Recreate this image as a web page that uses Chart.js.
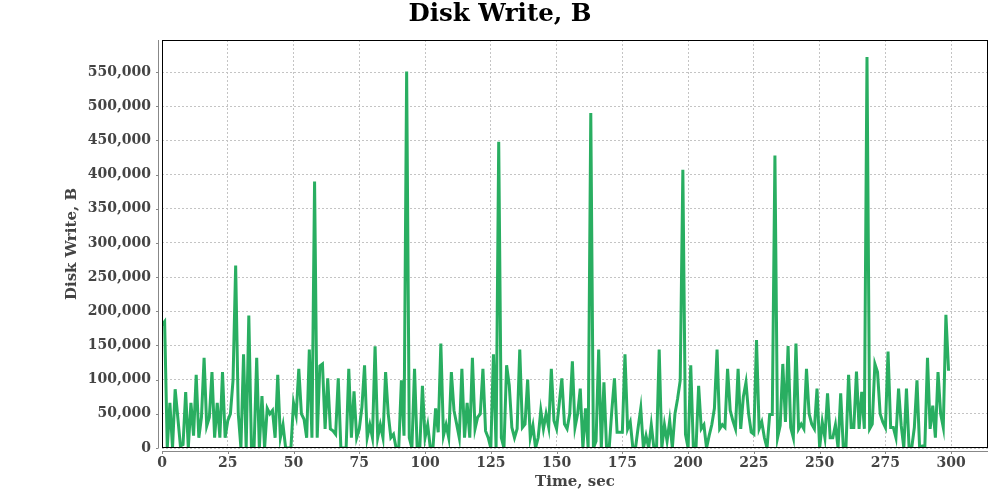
<!DOCTYPE html>
<html>
<head>
<meta charset="utf-8">
<title>Disk Write, B</title>
<script src="https://cdn.jsdelivr.net/npm/chart.js@4.4.1/dist/chart.umd.min.js"></script>
<style>
    html, body { margin: 0; padding: 0; background: #fff; }
    #wrap { width: 1000px; height: 500px; }
</style>
</head>
<body>
<div id="wrap"><canvas id="grafico-disco"></canvas></div>
<script>
// Bytes written per second (t = 0..299 s)
const diskWrite = [
    180000, 185000, 0, 66000, 0, 86000, 45000, 3000, 5000, 82000,
    0, 66000, 18000, 107000, 15000, 45000, 132000, 32000, 45000, 111000,
    15000, 66000, 15000, 111000, 15000, 40000, 50000, 99000, 267000, 50000,
    0, 137000, 0, 194000, 0, 0, 132000, 0, 76000, 0,
    58000, 50000, 55000, 15000, 107000, 15000, 34000, 0, 0, 0,
    66000, 48000, 116000, 50000, 42000, 15000, 144000, 15000, 390000, 15000,
    120000, 123000, 28000, 102000, 28000, 25000, 20000, 102000, 0, 0,
    0, 116000, 15000, 83000, 15000, 28000, 60000, 121000, 15000, 34000,
    15000, 149000, 15000, 34000, 15000, 111000, 50000, 15000, 20000, 0,
    0, 99000, 18000, 551000, 15000, 0, 116000, 0, 0, 91000,
    15000, 34000, 0, 0, 58000, 23000, 153000, 18000, 34000, 15000,
    111000, 55000, 35000, 15000, 116000, 15000, 66000, 15000, 132000, 28000,
    45000, 50000, 116000, 25000, 15000, 0, 137000, 0, 448000, 15000,
    0, 121000, 92000, 30000, 15000, 28000, 144000, 30000, 35000, 100000,
    15000, 33000, 0, 15000, 55000, 28000, 50000, 30000, 116000, 40000,
    28000, 65000, 102000, 35000, 28000, 50000, 127000, 30000, 50000, 87000,
    0, 58000, 0, 490000, 0, 10000, 144000, 0, 96000, 0,
    0, 55000, 102000, 23000, 23000, 23000, 137000, 28000, 38000, 0,
    0, 30000, 58000, 0, 18000, 0, 34000, 0, 0, 144000,
    0, 34000, 10000, 40000, 0, 50000, 72000, 99000, 407000, 20000,
    0, 121000, 0, 0, 91000, 28000, 34000, 0, 18000, 34000,
    58000, 144000, 28000, 34000, 30000, 116000, 55000, 40000, 28000, 116000,
    28000, 75000, 96000, 50000, 23000, 20000, 158000, 28000, 38000, 15000,
    0, 49000, 49000, 428000, 15000, 33000, 123000, 38000, 149000, 30000,
    15000, 153000, 28000, 35000, 28000, 116000, 50000, 35000, 28000, 87000,
    0, 38000, 15000, 80000, 15000, 15000, 34000, 0, 80000, 0,
    0, 107000, 30000, 30000, 112000, 28000, 82000, 28000, 572000, 28000,
    35000, 123000, 111000, 50000, 38000, 30000, 141000, 30000, 30000, 15000,
    87000, 33000, 0, 87000, 0, 0, 30000, 99000, 0, 3000,
    3000, 132000, 28000, 62000, 15000, 111000, 50000, 30000, 195000, 113000
];

// Time in seconds, one sample per second
const seconds = diskWrite.map((_, i) => i);

// Axis ticks
const xTicks = [0, 25, 50, 75, 100, 125, 150, 175, 200, 225, 250, 275, 300];
const yTicks = [0, 50000, 100000, 150000, 200000, 250000, 300000, 350000, 400000, 450000, 500000, 550000];

const fonteSerif = "'DejaVu Serif', 'Liberation Serif', serif";
const corTexto = '#444444';

// Moldura preta da área do gráfico + eixos cinza deslocados
const molduraPlugin = {
    id: 'moldura',
    afterDraw(chart) {
        const { ctx, chartArea: a, scales } = chart;
        ctx.save();
        ctx.strokeStyle = '#000000';
        ctx.lineWidth = 1;
        ctx.strokeRect(a.left + 0.5, a.top + 0.5, a.right - a.left - 1, a.bottom - a.top - 1);

        ctx.strokeStyle = '#888888';
        ctx.beginPath();
        ctx.moveTo(a.left - 3.5, a.top);
        ctx.lineTo(a.left - 3.5, a.bottom);
        ctx.moveTo(a.left, a.bottom + 3.5);
        ctx.lineTo(a.right, a.bottom + 3.5);
        yTicks.forEach(v => {
            const py = Math.round(scales.y.getPixelForValue(v)) + 0.5;
            ctx.moveTo(a.left - 6, py);
            ctx.lineTo(a.left - 3.5, py);
        });
        xTicks.forEach(v => {
            const px = Math.round(scales.x.getPixelForValue(v)) + 0.5;
            ctx.moveTo(px, a.bottom + 3.5);
            ctx.lineTo(px, a.bottom + 6);
        });
        ctx.stroke();
        ctx.restore();
    }
};

document.addEventListener('DOMContentLoaded', () => {
    const ctx = document.getElementById('grafico-disco').getContext('2d');

    new Chart(ctx, {
        type: 'line',
        data: {
            datasets: [{
                label: 'Disk Write, B',
                data: seconds.map((t, i) => ({ x: t, y: diskWrite[i] })),
                borderColor: '#29ae61',
                borderWidth: 3,
                pointRadius: 0,
                tension: 0,
                clip: 0
            }]
        },
        options: {
            responsive: true,
            maintainAspectRatio: false,
            animation: false,
            // padding simétrico para o título ficar centrado na página
            layout: { padding: { top: 0, right: 12, bottom: 0, left: 12 } },
            plugins: {
                legend: { display: false },
                tooltip: { enabled: false },
                title: {
                    display: true,
                    text: 'Disk Write, B',
                    color: '#000000',
                    font: { family: fonteSerif, size: 24.5, weight: 'bold', lineHeight: 1.2 },
                    padding: { top: 0, bottom: 10.6 }
                }
            },
            scales: {
                x: {
                    type: 'linear',
                    min: 0,
                    max: 314,
                    afterBuildTicks: scale => { scale.ticks = xTicks.map(v => ({ value: v })); },
                    afterFit: scale => { scale.height = 52; },
                    ticks: {
                        color: corTexto,
                        font: { family: fonteSerif, size: 14, weight: 'bold' },
                        padding: 7,
                        maxRotation: 0
                    },
                    grid: { color: '#c4c4c4', drawTicks: false },
                    border: { display: false, dash: [2, 2] },
                    title: {
                        display: true,
                        text: 'Time, sec',
                        color: corTexto,
                        font: { family: fonteSerif, size: 15, weight: 'bold', lineHeight: 1.2 },
                        padding: { top: 0, bottom: 9 }
                    }
                },
                y: {
                    min: 0,
                    max: 597000,
                    afterBuildTicks: scale => { scale.ticks = yTicks.map(v => ({ value: v })); },
                    afterFit: scale => { scale.width = 150; },
                    ticks: {
                        color: corTexto,
                        font: { family: fonteSerif, size: 14, weight: 'bold' },
                        padding: 11,
                        callback: v => v.toLocaleString('en-US')
                    },
                    grid: { color: '#c4c4c4', drawTicks: false },
                    border: { display: false, dash: [2, 2] },
                    title: {
                        display: true,
                        text: 'Disk Write, B',
                        color: corTexto,
                        font: { family: fonteSerif, size: 15, weight: 'bold', lineHeight: 1.2 },
                        padding: { top: 51, bottom: 0 }
                    }
                }
            }
        },
        plugins: [molduraPlugin]
    });
});
</script>
</body>
</html>
